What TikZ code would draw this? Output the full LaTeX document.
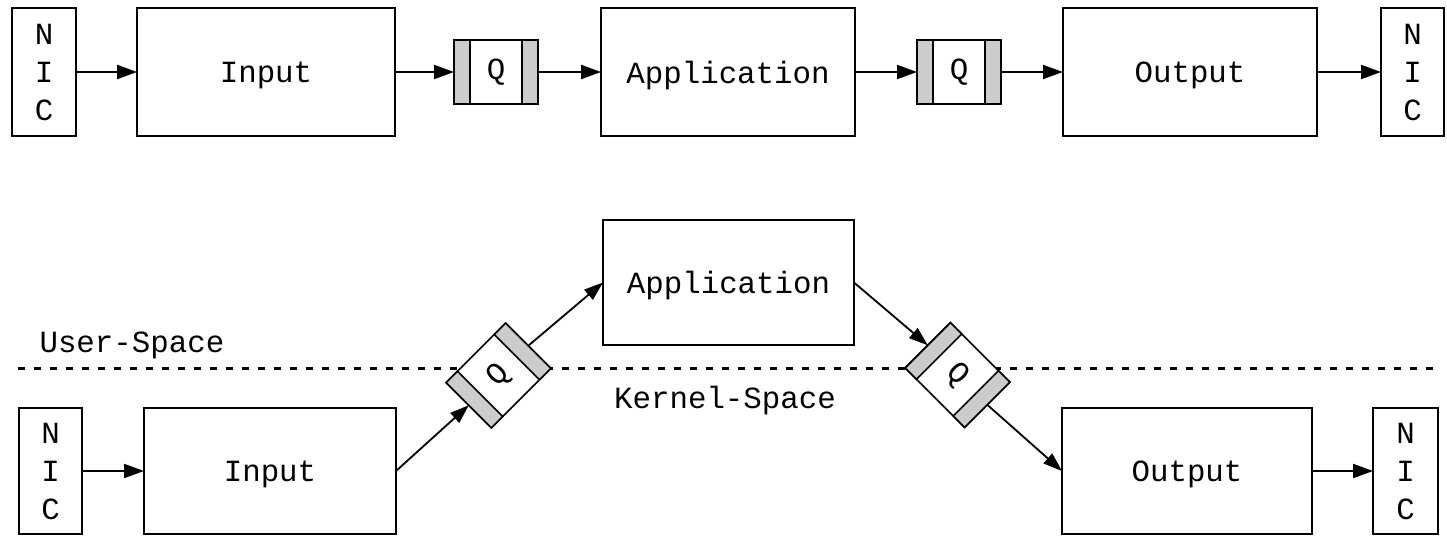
\documentclass[tikz,border=0pt]{standalone}
\usepackage{fontspec}
\newfontfamily\cour{Liberation Mono}
\usetikzlibrary{arrows.meta,calc}

\tikzset{
  label font/.style={font=\cour\fontsize{30.8pt}{38pt}\selectfont},
  box/.style={draw, line width=2.5pt, fill=white, inner sep=0pt, outer sep=0pt,
    label font, text depth=0pt},
  nic/.style={box, align=center, minimum width=64pt},
  queue/.style={draw, line width=1.6pt, fill=white, inner sep=0pt, outer sep=0pt,
    minimum width=84pt, minimum height=64pt, label font},
  flow/.style={line width=2pt, -{Triangle[length=20pt,width=14pt]}},
  slant/.style={line width=1.8pt, -{Triangle[length=19pt,width=13pt]}},
  border/.style={line width=3pt, dash pattern=on 7pt off 9pt},
  band/.style={draw, line width=1.6pt, fill=gray!40}
}

% grey end bands of a queue node
\newcommand\qbands[1]{%
  \path[band] (#1.north west) -- ($(#1.north west)!0.19!(#1.north east)$)
     -- ($(#1.south west)!0.19!(#1.south east)$) -- (#1.south west) -- cycle;
  \path[band] (#1.north east) -- ($(#1.north east)!0.19!(#1.north west)$)
     -- ($(#1.south east)!0.19!(#1.south west)$) -- (#1.south east) -- cycle;
}

\begin{document}
\begin{tikzpicture}[x=1pt,y=-1pt]
\useasboundingbox (0,0) rectangle (1447,536);

% ---- upper pipeline ----
\node[nic, minimum height=128pt] (nicA) at (44,72) {N\\I\\C};
\node[box, minimum width=258pt, minimum height=128pt] (inA) at (266,72) {Input};
\node[queue] (qA1) at (496,72) {Q};
\qbands{qA1}
\node[box, minimum width=254pt, minimum height=128pt] (appA) at (728,72) {Application};
\node[queue] (qA2) at (959,72) {Q};
\qbands{qA2}
\node[box, minimum width=254pt, minimum height=128pt] (outA) at (1190,72) {Output};
\node[nic, minimum width=63pt, minimum height=128pt] (nicA2) at (1412.5,72) {N\\I\\C};

\draw[flow] (nicA) -- (inA);
\draw[flow] (inA) -- (qA1);
\draw[flow] (qA1) -- (appA);
\draw[flow] (appA) -- (qA2);
\draw[flow] (qA2) -- (outA);
\draw[flow] (outA) -- (nicA2);

% ---- user / kernel boundary ----
\coordinate (bL) at (18,368);
\coordinate (bR) at (1440,368);
\draw[border] (bL) -- (bR);
\node[label font, anchor=west] (user) at (36,345) {User-Space};
\node[label font] (kernel) at (725,401) {Kernel-Space};

% ---- lower pipeline ----
\node[nic, minimum width=63pt, minimum height=126pt] (nicB) at (50.5,471) {N\\I\\C};
\node[box, minimum width=252pt, minimum height=126pt] (inB) at (270,471) {Input};
\node[box, minimum width=251pt, minimum height=125pt] (appB) at (728.5,282.5) {Application};
\node[box, minimum width=250pt, minimum height=126pt] (outB) at (1187,471) {Output};
\node[nic, minimum width=65pt, minimum height=126pt] (nicB2) at (1405.5,471) {N\\I\\C};

\node[queue, rotate=45] (qB1) at (498.5,375.5) {Q};
\qbands{qB1}
\node[queue, rotate=-45] (qB2) at (957.5,375) {Q};
\qbands{qB2}

\draw[flow] (nicB) -- (inB);
\draw[slant] (inB.east) -- (qB1.west);
\draw[slant] (qB1.east) -- (appB.west);
\draw[slant] (appB.east) -- (qB2.west);
\draw[slant] (qB2.east) -- (outB.west);
\draw[flow] (outB) -- (nicB2);
\end{tikzpicture}
\end{document}
